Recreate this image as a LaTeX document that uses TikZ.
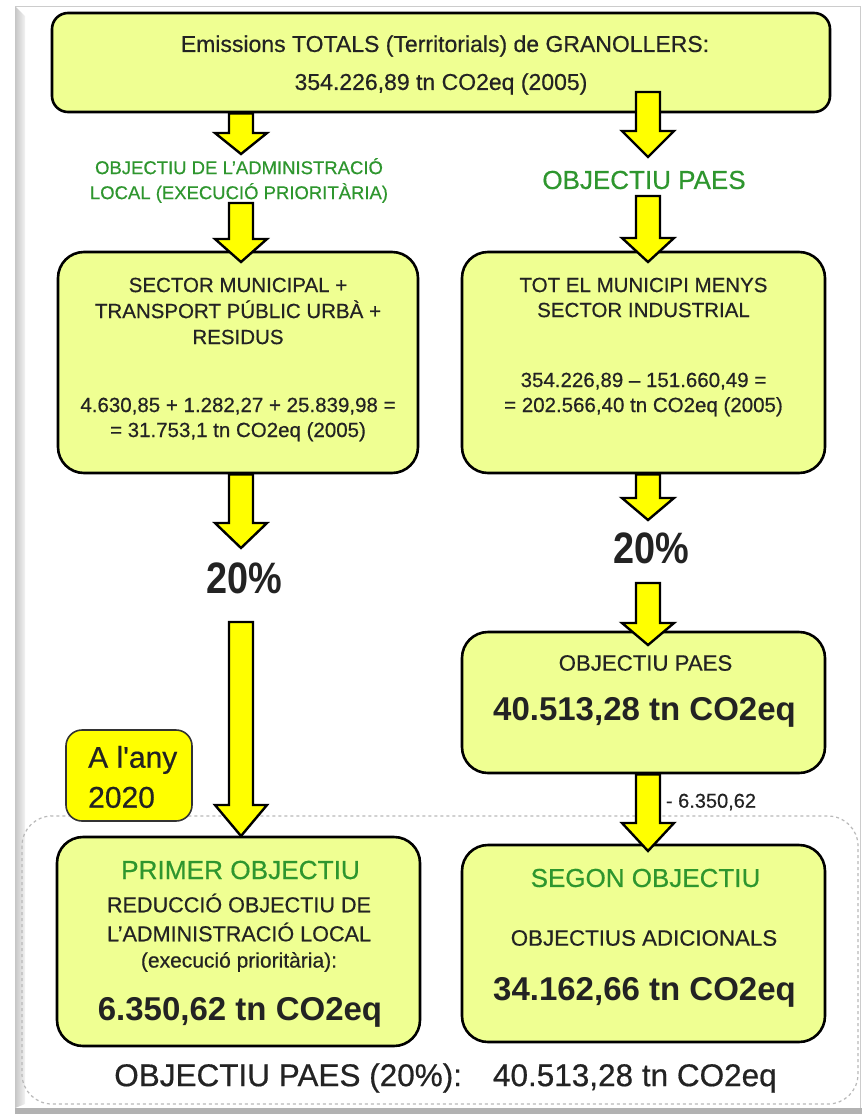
\documentclass[tikz,border=0pt]{standalone}
\usepackage{fontspec}
\setmainfont{Liberation Sans}
\newfontfamily\boldish{Liberation Sans}[FakeBold=0.5]
\usetikzlibrary{calc}
\definecolor{boxfill}{RGB}{239,255,146}
\definecolor{ygreen}{RGB}{46,150,46}
\definecolor{txt}{RGB}{35,35,35}
\definecolor{arry}{RGB}{255,255,0}
\newcommand\fsz[2]{\fontsize{#1pt}{#2pt}\selectfont}
\newcommand\barrow[3][24pt]{%
  \draw[arrowsty] let \p1=#2, \p2=#3 in
   (\x1-12pt,\y1) -- (\x1+12pt,\y1) -- (\x1+12pt,\y2+#1) -- (\x1+26pt,\y2+#1)
   -- (\x1,\y2) -- (\x1-26pt,\y2+#1) -- (\x1-12pt,\y2+#1) -- cycle;}
\begin{document}
\begin{tikzpicture}[x=1pt,y=-1pt,
  box/.style={draw=black, line width=2.6pt, fill=boxfill, rounded corners=26pt, inner sep=0pt},
  tx/.style={text=txt, inner sep=0pt, align=center},
  gr/.style={text=ygreen, inner sep=0pt, align=center},
  arrowsty/.style={fill=arry, draw=black, line width=2.4pt, line join=miter}]
\useasboundingbox (0,0) rectangle (862,1114);
\fill[white] (0,0) rectangle (862,1114);
% page frame
\shade[left color=gray!45, right color=gray!10] (15,6) -- (25,16) -- (25,1104) -- (15,1108) -- cycle;
\draw[gray!40, line width=1pt] (15,6) -- (860,6) -- (860,1108);
\fill[gray!60] (15,1108) rectangle (862,1114);
% dashed region
\draw[gray!55, dashed, line width=1.2pt, rounded corners=30pt] (22,816) rectangle (858,1104);

% column guides
\coordinate (lc) at (241,0);
\coordinate (rc) at (648,0);

% boxes
\node[box, rounded corners=16pt, minimum width=778pt, minimum height=99pt] (top) at (441,62.5) {};
\node[box, minimum width=360pt, minimum height=221pt] (L2) at (238,362.5) {};
\node[box, minimum width=363pt, minimum height=221pt] (R2) at (643.5,362.5) {};
\node[box, minimum width=363pt, minimum height=141pt] (R3) at (643.5,702.5) {};
\node[box, minimum width=363pt, minimum height=209pt] (L4) at (238.5,941.5) {};
\node[box, minimum width=363pt, minimum height=197pt] (R4) at (643.5,943.5) {};
\node[draw=black!80, line width=1.6pt, fill=arry, rounded corners=16pt, minimum width=126pt, minimum height=91pt] (any) at (129,775.5) {};

% texts
\node[tx, font=\boldish\fsz{23}{28}] (t1) at (445,46) {Emissions TOTALS (Territorials) de GRANOLLERS:};
\node[tx, font=\boldish\fsz{23}{28}] (t2) at (441,84) {354.226,89 tn CO2eq (2005)};
\node[gr, font=\boldish\fsz{18.5}{25}] (goalL) at (239,180.5) {OBJECTIU DE L’ADMINISTRACIÓ\\LOCAL (EXECUCIÓ PRIORITÀRIA)};
\node[gr, font=\boldish\fsz{26}{30}] (goalR) at (644,180) {OBJECTIU PAES};

\node[tx, font=\boldish\fsz{20.5}{26}] (l2a) at (238,311) {SECTOR MUNICIPAL +\\TRANSPORT PÚBLIC URBÀ +\\RESIDUS};
\node[tx, font=\boldish\fsz{20.5}{25}] (l2b) at (238,419.5) {4.630,85 + 1.282,27 + 25.839,98 =\\= 31.753,1 tn CO2eq (2005)};
\node[tx, font=\boldish\fsz{20.5}{25}] (r2a) at (643.5,297.5) {TOT EL MUNICIPI MENYS\\SECTOR INDUSTRIAL};
\node[tx, font=\boldish\fsz{20.5}{25}] (r2b) at (643.5,394.5) {354.226,89 – 151.660,49 =\\= 202.566,40 tn CO2eq (2005)};

\node[tx, font=\fsz{44}{48}\bfseries] (pL) at (244.5,578) {\scalebox{0.86}[1]{20\%}};
\node[tx, font=\fsz{44}{48}\bfseries] (pR) at (651,548) {\scalebox{0.86}[1]{20\%}};

\node[tx, font=\boldish\fsz{22.2}{26}] (r3a) at (645.5,663) {OBJECTIU PAES};
\node[tx, font=\fsz{33}{38}\bfseries] (r3b) at (644.5,712) {40.513,28 tn CO2eq};

\node[tx, anchor=west, align=left, font=\boldish\fsz{30}{40}] (anyt) at (88,777) {A l'any\\2020};
\node[tx, font=\boldish\fsz{20}{24}] (minus) at (711,802) {- 6.350,62};

\node[gr, font=\boldish\fsz{26.2}{30}] (l4a) at (240.5,870) {PRIMER OBJECTIU};
\node[tx, font=\boldish\fsz{21.6}{29}] (l4b) at (239,917.5) {REDUCCIÓ OBJECTIU DE\\L’ADMINISTRACIÓ LOCAL};
\node[tx, font=\boldish\fsz{21}{25}] (l4c) at (239,962) {(execució prioritària):};
\node[tx, font=\fsz{33}{38}\bfseries] (l4d) at (240,1012) {6.350,62 tn CO2eq};

\node[gr, font=\boldish\fsz{26}{30}] (r4a) at (645.5,878) {SEGON OBJECTIU};
\node[tx, font=\boldish\fsz{22.3}{26}] (r4b) at (644,938) {OBJECTIUS ADICIONALS};
\node[tx, font=\fsz{33}{38}\bfseries] (r4c) at (644.5,992) {34.162,66 tn CO2eq};

\node[tx, font=\boldish\fsz{31.5}{36}] (bottom) at (445.5,1078) {OBJECTIU PAES (20\%):\hspace{31pt}40.513,28 tn CO2eq};

% arrow end points
\coordinate (sA2) at (648,92);
\coordinate (tA1) at (241,154);
\coordinate (tA2) at (648,157);
\coordinate (sA3) at (241,203);
\coordinate (tA3) at (241,262);
\coordinate (sA4) at (648,196);
\coordinate (tA4) at (648,262);
\coordinate (tA5) at (241,548);
\coordinate (tA6) at (648,520);
\coordinate (sA7) at (648,583);
\coordinate (tA7) at (648,645);
\coordinate (sA8) at (241,622);
\coordinate (tA8) at (241,836);
\coordinate (tA9) at (648,851);

% arrows
\barrow[21pt]{(top.south -| lc)}{(tA1)}
\barrow[26pt]{(sA2)}{(tA2)}
\barrow[23pt]{(sA3)}{(tA3)}
\barrow[24pt]{(sA4)}{(tA4)}
\barrow[25pt]{(L2.south -| lc)}{(tA5)}
\barrow[22pt]{(R2.south -| rc)}{(tA6)}
\barrow[22pt]{(sA7)}{(tA7)}
\barrow[31pt]{(sA8)}{(tA8)}
\barrow[28pt]{(R3.south -| rc)}{(tA9)}
\end{tikzpicture}
\end{document}
